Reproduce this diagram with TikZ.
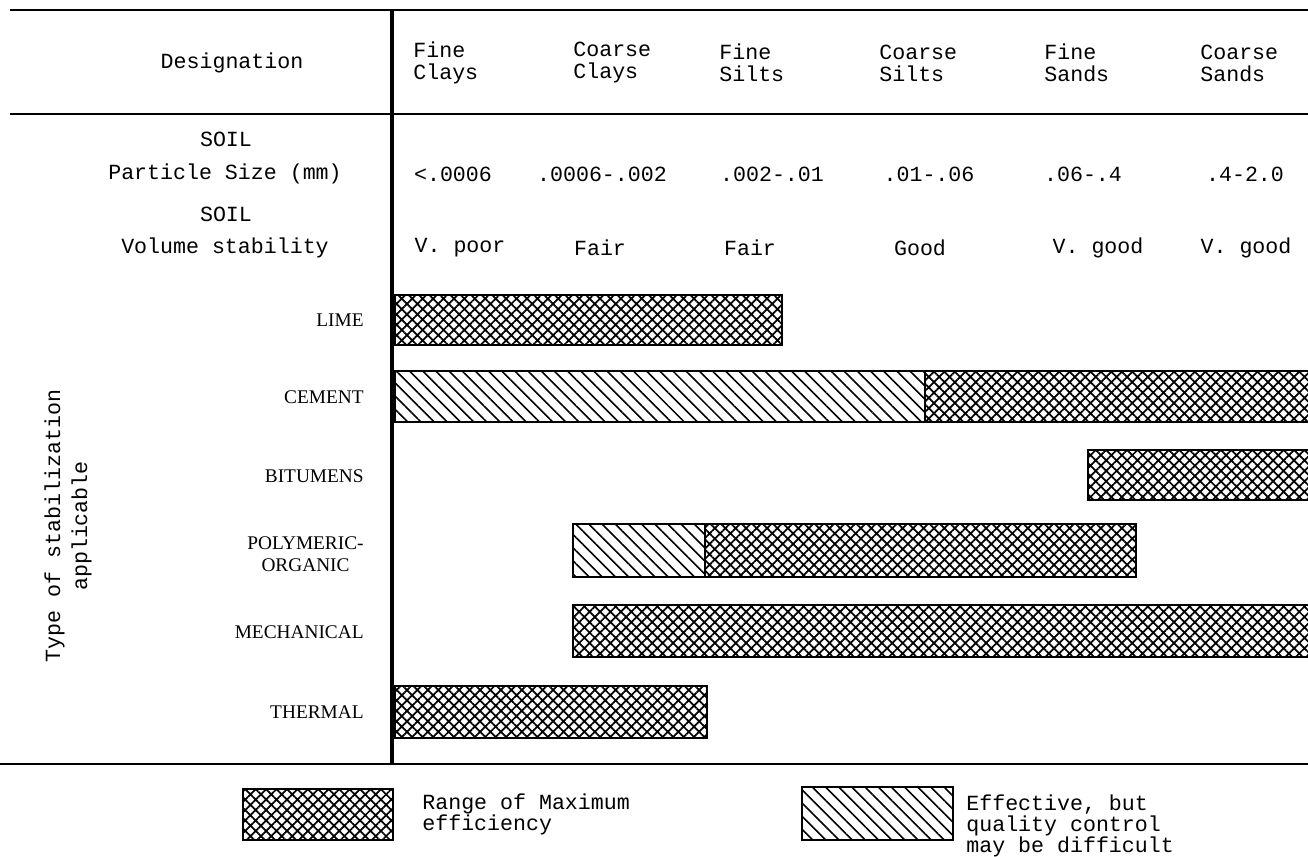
\documentclass[tikz,border=0pt]{standalone}
\usepackage{fontspec}
\setmonofont{Liberation Mono}
\newfontfamily\capsfont{Liberation Serif}
\usetikzlibrary{patterns.meta}
\tikzset{
  hruleline/.style={line width=1.1pt},
  vruleline/.style={line width=1.8pt},
  ttlabel/.style={font=\ttfamily\fontsize{12.3}{12.5}\selectfont, inner sep=0pt},
  hdrlabel/.style={ttlabel, anchor=west, align=left},
  leglabel/.style={ttlabel, anchor=west, align=left, font=\ttfamily\fontsize{12.3}{11.9}\selectfont},
  catlabel/.style={font=\capsfont\fontsize{11}{12.5}\selectfont, inner sep=0pt, anchor=east, align=center},
  xhatch/.style={pattern={Hatch[angle=45,distance=4.2pt,line width=1pt]}},
  dhatch/.style={pattern={Lines[angle=-45,distance=5.3pt,line width=0.9pt]}},
  barline/.style={line width=1.1pt},
}
\begin{document}
\begin{tikzpicture}[x=0.02cm,y=-0.02cm]
\useasboundingbox (0,0) rectangle (1308,857);
% rules
\draw[hruleline] (10,10) -- (1308,10);
\draw[hruleline] (10,114) -- (1308,114);
\draw[hruleline] (0,764) -- (1308,764);
\draw[vruleline] (392,10) -- (392,764);
% header
\node[ttlabel] (desig) at (232,63) {Designation};
\node[hdrlabel] (h1) at (413,63) {Fine\\Clays};
\node[hdrlabel] (h2) at (573,63) {Coarse\\Clays};
\node[hdrlabel] (h3) at (719,63) {Fine\\Silts};
\node[hdrlabel] (h4) at (879,63) {Coarse\\Silts};
\node[hdrlabel] (h5) at (1044,63) {Fine\\Sands};
\node[hdrlabel] (h6) at (1200,63) {Coarse\\Sands};
% rows
\node[ttlabel] (soil1) at (226,139) {SOIL};
\node[ttlabel] (ps) at (225,174) {Particle Size (mm)};
\node[ttlabel] (soil2) at (226,214) {SOIL};
\node[ttlabel] (vs) at (225,248) {Volume stability};
\node[ttlabel] (p1) at (453,174) {<.0006};
\node[ttlabel] (p2) at (602,174) {.0006-.002};
\node[ttlabel] (p3) at (772,174) {.002-.01};
\node[ttlabel] (p4) at (929,174) {.01-.06};
\node[ttlabel] (p5) at (1083,174) {.06-.4};
\node[ttlabel] (p6) at (1245,174) {.4-2.0};
\node[ttlabel] (v1) at (460,248) {V. poor};
\node[ttlabel] (v2) at (600,248) {Fair};
\node[ttlabel] (v3) at (750,248) {Fair};
\node[ttlabel] (v4) at (920,248) {Good};
\node[ttlabel] (v5) at (1098,248) {V. good};
\node[ttlabel] (v6) at (1246,248) {V. good};
% side label
\node[ttlabel, align=center, rotate=90, font=\ttfamily\fontsize{12.3}{15.4}\selectfont] (type) at (68,526) {Type of stabilization\\applicable};
% category labels
\node[catlabel] (lime) at (364,320) {LIME};
\node[catlabel] (cement) at (364,397) {CEMENT};
\node[catlabel] (bit) at (364,476) {BITUMENS};
\node[catlabel] (poly) at (364,554) {POLYMERIC-\\ORGANIC};
\node[catlabel] (mech) at (364,632) {MECHANICAL};
\node[catlabel] (therm) at (364,712) {THERMAL};
% bars
\draw[barline, xhatch] (395,295) rectangle (782,345);
\draw[barline, dhatch] (395,371) rectangle (925,422);
\draw[barline, xhatch] (925,371) rectangle (1312,422);
\draw[barline, xhatch] (1088,450) rectangle (1312,500);
\draw[barline, dhatch] (573,524) rectangle (705,577);
\draw[barline, xhatch] (705,524) rectangle (1136,577);
\draw[barline, xhatch] (573,605) rectangle (1312,657);
\draw[barline, xhatch] (395,686) rectangle (707,738);
% legend
\draw[barline, xhatch] (243,789) rectangle (393,840);
\node[leglabel] (lg1) at (422,814) {Range of Maximum\\efficiency};
\draw[barline, dhatch] (802,787) rectangle (953,840);
\node[leglabel] (lg2) at (966,826) {Effective, but\\quality control\\may be difficult};
\end{tikzpicture}
\end{document}
